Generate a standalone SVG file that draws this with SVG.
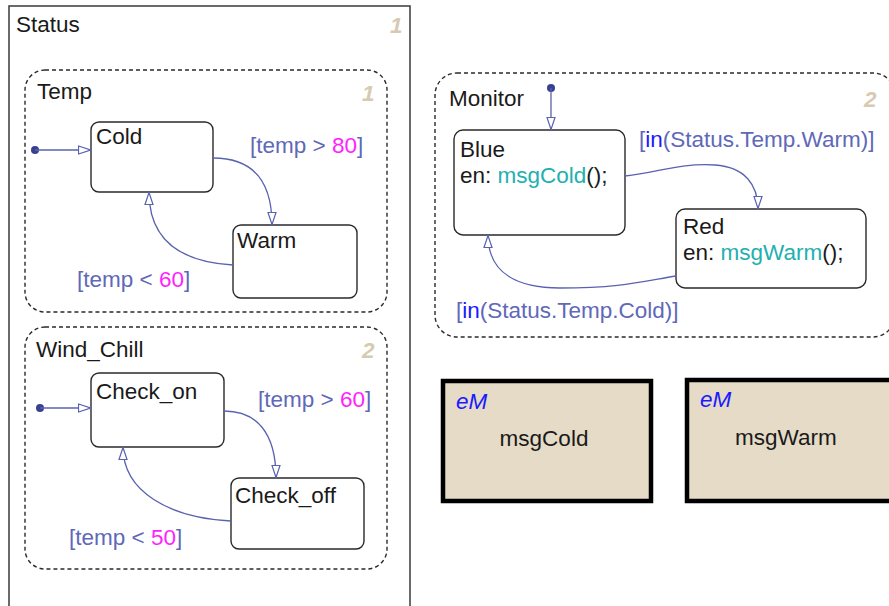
<svg xmlns="http://www.w3.org/2000/svg" width="889" height="606" viewBox="0 0 889 606">
<defs>
<style>
text{font-family:"Liberation Sans",Arial,sans-serif;font-size:22.5px;fill:#1a1a1a}
.st{fill:#fff;stroke:#2a2a2a;stroke-width:1.4}
.box{fill:none;stroke:#3a3a3a;stroke-width:1.5}
.par{fill:none;stroke:#2a2a2a;stroke-width:1.4;stroke-dasharray:4 3}
.tr{fill:none;stroke:#5a62b0;stroke-width:1.3}
.lbl{fill:#6068b8}
.num{fill:#ff22ff}
.kw{fill:#1a1aff}
.fn{fill:#22b0b0}
.idx{fill:#d6cbb2;font-weight:bold;font-style:italic}
.em{fill:#e5dbc7;stroke:#000;stroke-width:4.5}
.emt{fill:#1a1aff;font-style:italic}
.dot{fill:#3a4090}
</style>
<marker id="ah" viewBox="0 0 14 10" refX="13.5" refY="5" markerWidth="14" markerHeight="10" markerUnits="userSpaceOnUse" orient="auto">
<path d="M1,1 L13,5 L1,9 Z" fill="#fff" stroke="#5a62b0" stroke-width="1.2"/>
</marker>
</defs>
<rect width="889" height="606" fill="#fff"/>

<g id="Status">
<rect class="box" x="9" y="6" width="401" height="640"/>
<text x="16" y="32">Status</text>
<text class="idx" x="390" y="33">1</text>
</g>

<g id="Temp">
<rect class="par" x="25" y="70" width="362" height="242" rx="20"/>
<text x="37" y="99">Temp</text>
<text class="idx" x="362" y="101">1</text>
</g>
<g id="Cold">
<rect class="st" x="91" y="122" width="122" height="70" rx="8"/>
<text x="96" y="144">Cold</text>
</g>
<g id="Warm">
<rect class="st" x="233" y="225" width="124" height="73" rx="8"/>
<text x="237" y="248">Warm</text>
</g>

<g id="Wind_Chill">
<rect class="par" x="25" y="327" width="362" height="242" rx="20"/>
<text x="36" y="357">Wind_Chill</text>
<text class="idx" x="362" y="358">2</text>
</g>
<g id="Check_on">
<rect class="st" x="91" y="373" width="133" height="74" rx="8"/>
<text x="96" y="399">Check_on</text>
</g>
<g id="Check_off">
<rect class="st" x="231" y="478" width="133" height="71" rx="8"/>
<text x="235" y="503">Check_off</text>
</g>

<g id="Monitor">
<rect class="par" x="435" y="73" width="460" height="264" rx="22"/>
<text x="449" y="106">Monitor</text>
<text class="idx" x="864" y="107">2</text>
</g>
<g id="Blue">
<rect class="st" x="454" y="130" width="171" height="105" rx="9"/>
<text x="460" y="157">Blue</text>
<text x="460" y="183">en: <tspan class="fn">msgCold</tspan>();</text>
</g>
<g id="Red">
<rect class="st" x="676" y="209" width="190" height="79" rx="9"/>
<text x="683" y="234">Red</text>
<text x="683" y="260">en: <tspan class="fn">msgWarm</tspan>();</text>
</g>

<g id="msgCold">
<rect class="em" x="443" y="381" width="208" height="120"/>
<text class="emt" x="456" y="409" font-size="21">eM</text>
<text x="544" y="446" text-anchor="middle">msgCold</text>
</g>
<g id="msgWarm">
<rect class="em" x="687" y="380" width="210" height="121"/>
<text class="emt" x="700" y="407" font-size="21">eM</text>
<text x="735" y="445">msgWarm</text>
</g>

<g id="connectors">
<circle class="dot" cx="35" cy="150" r="4"/>
<path class="tr" d="M35,150 L91,150" marker-end="url(#ah)"/>
<path class="tr" d="M213,158 C250,158 272,178 272,225" marker-end="url(#ah)"/>
<path class="tr" d="M233,265 C180,262 149,240 149,192" marker-end="url(#ah)"/>
<text class="lbl" x="250" y="153">[temp &gt; <tspan class="num">80</tspan>]</text>
<text class="lbl" x="77" y="287">[temp &lt; <tspan class="num">60</tspan>]</text>

<circle class="dot" cx="40" cy="408" r="4"/>
<path class="tr" d="M40,408 L91,408" marker-end="url(#ah)"/>
<path class="tr" d="M224,411 C256,411 276,432 276,478" marker-end="url(#ah)"/>
<path class="tr" d="M231,521 C170,518 123,492 123,447" marker-end="url(#ah)"/>
<text class="lbl" x="258" y="407">[temp &gt; <tspan class="num">60</tspan>]</text>
<text class="lbl" x="69" y="545">[temp &lt; <tspan class="num">50</tspan>]</text>

<circle class="dot" cx="551" cy="88" r="4"/>
<path class="tr" d="M551,88 L551,130" marker-end="url(#ah)"/>
<path class="tr" d="M625,176 C660,172 680,163 715,165 C745,167 758,185 758,209" marker-end="url(#ah)"/>
<path class="tr" d="M676,276 C640,282 620,288 560,288 C520,288 488,275 488,235" marker-end="url(#ah)"/>
<text class="lbl" x="639" y="147">[<tspan class="kw">in</tspan>(Status.Temp.Warm)]</text>
<text class="lbl" x="456" y="318">[<tspan class="kw">in</tspan>(Status.Temp.Cold)]</text>
</g>
</svg>
